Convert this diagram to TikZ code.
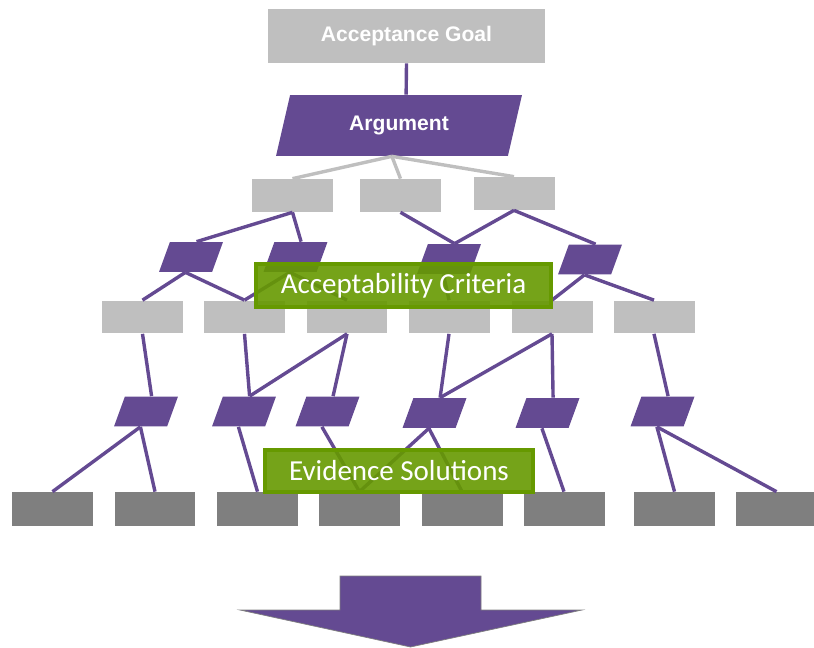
\documentclass[tikz,border=0pt]{standalone}
\usepackage{fontspec}
\setsansfont{Liberation Sans}
\newfontfamily\calfont{Carlito}
\usetikzlibrary{shapes.geometric}
\definecolor{argpurple}{RGB}{100, 74, 146}
\definecolor{goalgray}{RGB}{191, 191, 191}
\definecolor{evidgray}{RGB}{127, 127, 127}
\definecolor{labelgreen}{RGB}{102, 153, 0}
\tikzset{
  goalbox/.style={fill=goalgray, minimum width=1.62cm, minimum height=0.66cm, inner sep=0pt},
  evidbox/.style={fill=evidgray, minimum width=1.62cm, minimum height=0.68cm, inner sep=0pt},
  argshape/.style={trapezium, trapezium left angle=70, trapezium right angle=110,
    trapezium stretches body, fill=argpurple, minimum width=1.28cm,
    inner xsep=0pt, inner ysep=0.3cm},
  link/.style={draw=argpurple, line width=0.068cm},
  toplink/.style={draw=goalgray, line width=0.068cm},
  labelbox/.style={fill=labelgreen, fill opacity=0.9, draw=labelgreen, draw opacity=1,
    line width=0.07cm, text opacity=1, text=white, inner sep=0pt,
    font=\calfont\fontsize{16.5}{18}\selectfont}
}
\begin{document}
\begin{tikzpicture}[x=0.02cm, y=-0.02cm]
  \useasboundingbox (0,0) rectangle (814,648);
  % goal and argument
  \node[fill=goalgray, minimum width=5.54cm, minimum height=1.08cm, text=white,
    font=\sffamily\bfseries\fontsize{12}{14}\selectfont] (goal) at (406.5,36) {Acceptance Goal};
  \node[trapezium, trapezium left angle=77, trapezium right angle=103, trapezium stretches body,
    fill=argpurple, minimum width=4.92cm, text height=0.29cm, text depth=0.1cm,
    inner xsep=0pt, inner ysep=0.415cm, text=white,
    font=\sffamily\bfseries\fontsize{12}{14}\selectfont] (arg) at (399,125.5) {Argument};
  % sub-goals
  \node[goalbox] (b1) at (292.5,195.5) {};
  \node[goalbox] (b2) at (400.5,195.5) {};
  \node[goalbox] (b3) at (514,193.5) {};
  % sub-arguments
  \node[argshape] (p1) at (191,257) {};
  \node[argshape] (p2) at (295.5,257) {};
  \node[argshape] (p3) at (449,259) {};
  \node[argshape] (p4) at (590,259.5) {};
  % criteria boxes
  \foreach \i/\x in {1/142.5, 2/244.5, 3/347, 4/449, 5/552, 6/654}
    \node[goalbox] (c\i) at (\x,317) {};
  % lower arguments
  \node[argshape] (q1) at (146,411.5) {};
  \node[argshape] (q2) at (244,411.5) {};
  \node[argshape] (q3) at (327.5,411.5) {};
  \node[argshape] (q4) at (434.5,413) {};
  \node[argshape] (q5) at (547.5,413) {};
  \node[argshape] (q6) at (662.5,411.5) {};
  % evidence boxes
  \foreach \i/\x in {1/52.5, 2/155, 3/257.5, 4/359.5, 5/462, 6/564, 7/674.5, 8/776.5}
    \node[evidbox] (e\i) at (\x,509) {};

  % connectors
  \draw[link] (goal.south) -- (arg.top side);
  \foreach \t in {b1, b2, b3}
    \draw[toplink] (arg.bottom side) -- (\t.north);
  \foreach \s/\t in {b1/p1, b1/p2, b2/p3, b3/p3, b3/p4}
    \draw[link] (\s.south) -- (\t.top side);
  \foreach \s/\t in {p1/c1, p1/c2, p2/c2, p2/c3, p3/c4, p4/c5, p4/c6}
    \draw[link] (\s.bottom side) -- (\t.north);
  \foreach \s/\t in {c1/q1, c2/q2, c3/q2, c3/q3, c4/q4, c5/q4, c5/q5, c6/q6}
    \draw[link] (\s.south) -- (\t.top side);
  \foreach \s/\t in {q1/e1, q1/e2, q2/e3, q3/e4, q4/e4, q4/e5, q5/e6, q6/e7, q6/e8}
    \draw[link] (\s.bottom side) -- (\t.north);

  % labels
  \node[labelbox, minimum width=5.9cm, minimum height=0.86cm] (critlabel) at (403.5,285.5) {Acceptability Criteria};
  \node[labelbox, minimum width=5.36cm, minimum height=0.84cm] (evidlabel) at (399,471) {Evidence Solutions};

  % result arrow
  \filldraw[fill=argpurple, draw=evidgray, line width=0.4pt]
    (340,576) -- (481,576) -- (481,610) -- (582,610) -- (410.5,647) -- (240,610) -- (340,610) -- cycle;
\end{tikzpicture}
\end{document}
